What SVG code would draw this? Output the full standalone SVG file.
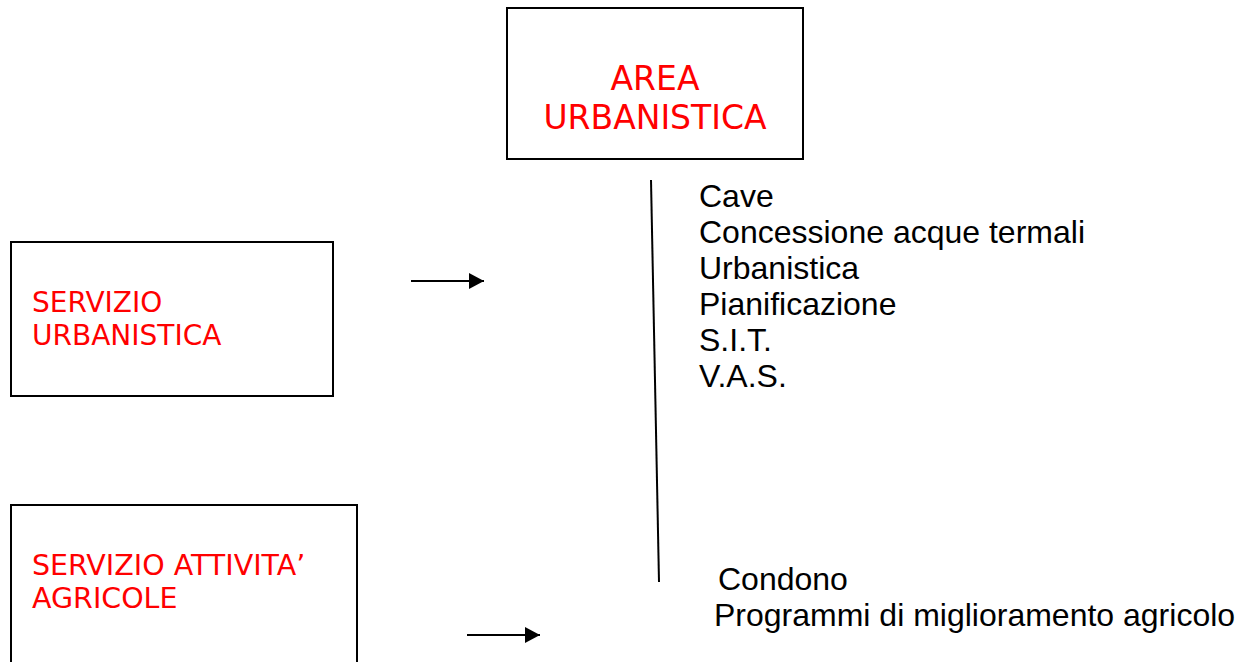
<svg xmlns="http://www.w3.org/2000/svg" width="1243" height="662" viewBox="0 0 1243 662">
<defs>
<style>
.box{fill:#fff;stroke:#000;stroke-width:2}
.red{fill:#ff0000;font-family:"DejaVu Sans",Verdana,sans-serif}
.blk{fill:#000;font-family:"Liberation Sans",Arial,sans-serif;font-size:32px}
.ln{stroke:#000;stroke-width:2;fill:none}
</style>
<marker id="ah" markerWidth="16" markerHeight="16" refX="15" refY="8" orient="auto" markerUnits="userSpaceOnUse">
<path d="M0,0 L15,8 L0,16 Z" fill="#000"/>
</marker>
</defs>
<rect width="1243" height="662" fill="#fff"/>
<g id="area-urbanistica">
<rect class="box" x="507" y="8" width="296" height="151"/>
<text class="red" font-size="33" text-anchor="middle" x="655" y="90">AREA</text>
<text class="red" font-size="33" text-anchor="middle" x="655" y="129">URBANISTICA</text>
</g>
<g id="servizio-urbanistica">
<rect class="box" x="11" y="242" width="322" height="154"/>
<text class="red" font-size="28" x="32" y="312">SERVIZIO</text>
<text class="red" font-size="28" x="32" y="345">URBANISTICA</text>
</g>
<g id="servizio-agricole">
<rect class="box" x="11" y="505" width="346" height="170"/>
<text class="red" font-size="28.5" x="32" y="575">SERVIZIO ATTIVITA’</text>
<text class="red" font-size="28.5" x="32" y="608">AGRICOLE</text>
</g>
<g id="elenco-urbanistica">
<text class="blk" x="699" y="207">Cave</text>
<text class="blk" x="699" y="243">Concessione acque termali</text>
<text class="blk" x="699" y="279">Urbanistica</text>
<text class="blk" x="699" y="315">Pianificazione</text>
<text class="blk" x="699" y="351">S.I.T.</text>
<text class="blk" x="699" y="387">V.A.S.</text>
</g>
<g id="elenco-agricole">
<text class="blk" x="718" y="590">Condono</text>
<text class="blk" x="714" y="626">Programmi di miglioramento agricolo</text>
</g>
<g id="connectors">
<line class="ln" x1="651" y1="180" x2="659" y2="582"/>
<line class="ln" x1="411" y1="281" x2="484" y2="281" marker-end="url(#ah)"/>
<line class="ln" x1="467" y1="635" x2="540" y2="635" marker-end="url(#ah)"/>
</g>
</svg>
